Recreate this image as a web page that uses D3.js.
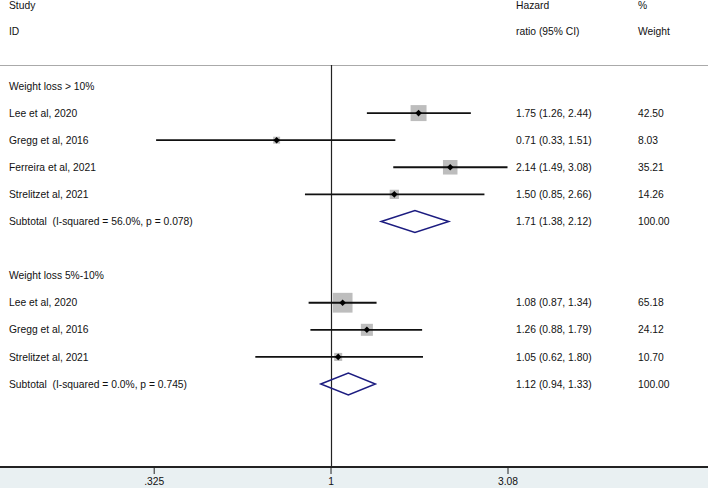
<!DOCTYPE html>
<html>
<head>
<meta charset="utf-8">
<script src="https://cdn.jsdelivr.net/npm/d3@7.9.0/dist/d3.min.js"></script>
<style>
  body { margin: 0; background: #fff; }
  svg { display: block; font-family: "Liberation Sans", Arial, Helvetica, sans-serif; }
  text { white-space: pre; }
</style>
</head>
<body>
<svg width="708" height="488"></svg>
<script>
// rows of the forest plot, top to bottom (kind: head / study / sub / blank)
const rowKinds = ['head', 'study', 'study', 'study', 'study', 'sub', 'blank',
                  'head', 'study', 'study', 'study', 'sub'];
const rowLabels = ['Weight loss > 10%', 'Lee et al, 2020', 'Gregg et al, 2016',
  'Ferreira et al, 2021', 'Strelitzet al, 2021',
  'Subtotal  (I-squared = 56.0%, p = 0.078)', '',
  'Weight loss 5%-10%', 'Lee et al, 2020', 'Gregg et al, 2016',
  'Strelitzet al, 2021', 'Subtotal  (I-squared = 0.0%, p = 0.745)'];
const hazardRatios = [null, 1.75, 0.71, 2.14, 1.50, 1.71, null, null, 1.08, 1.26, 1.05, 1.12];
const ciLower      = [null, 1.26, 0.33, 1.49, 0.85, 1.38, null, null, 0.87, 0.88, 0.62, 0.94];
const ciUpper      = [null, 2.44, 1.51, 3.08, 2.66, 2.12, null, null, 1.34, 1.79, 1.80, 1.33];
const weights      = [null, 42.50, 8.03, 35.21, 14.26, 100.00, null, null, 65.18, 24.12, 10.70, 100.00];
const tickValues = [0.325, 1, 3.08];
const tickLabels = ['.325', '1', '3.08'];

const W = 708, H = 488;
const FS = 10.3;
const svg = d3.select('svg');

const x = d3.scaleLog().domain([0.325, 3.08]).range([153.7, 507.5]);
const y = d3.scaleLinear().domain([0, 11]).range([86, 384]);

const fmt = d3.format('.2f');
const colStudy = 9, colHR = 516, colW = 638;

// bottom axis band
svg.append('rect').attr('x', 0).attr('y', 467).attr('width', W).attr('height', H - 467)
  .attr('fill', '#e9f0f2');

// header
const headY = [y(-3) + 1, y(-2)];
const hdr = [['Study', 'ID'], ['Hazard', 'ratio (95% CI)'], ['%', 'Weight']];
[colStudy, colHR, colW].forEach((cx, i) => {
  hdr[i].forEach((t, j) => {
    svg.append('text').attr('x', cx).attr('y', headY[j]).attr('dy', '0.35em')
      .attr('font-size', FS).attr('fill', '#111').text(t);
  });
});

// top separator
svg.append('line').attr('x1', 0).attr('x2', W).attr('y1', 65.5).attr('y2', 65.5)
  .attr('stroke', '#aaa').attr('stroke-width', 1);

// null line
svg.append('line').attr('x1', Math.round(x(1)) + 0.5).attr('x2', Math.round(x(1)) + 0.5)
  .attr('y1', 65).attr('y2', 467).attr('stroke', '#222').attr('stroke-width', 1.2);

const rows = rowKinds.map((k, i) => ({
  kind: k, label: rowLabels[i], hr: hazardRatios[i], lo: ciLower[i], hi: ciUpper[i], w: weights[i], i
}));

// labels
svg.selectAll('text.lab').data(rows.filter(d => d.label)).join('text')
  .attr('class', 'lab').attr('x', colStudy).attr('y', d => y(d.i)).attr('dy', '0.35em')
  .attr('font-size', FS).attr('fill', '#111').text(d => d.label);

const est = rows.filter(d => d.hr != null);

svg.selectAll('text.hr').data(est).join('text')
  .attr('class', 'hr').attr('x', colHR).attr('y', d => y(d.i)).attr('dy', '0.35em')
  .attr('font-size', FS).attr('fill', '#111')
  .text(d => `${fmt(d.hr)} (${fmt(d.lo)}, ${fmt(d.hi)})`);

svg.selectAll('text.wt').data(est).join('text')
  .attr('class', 'wt').attr('x', colW).attr('y', d => y(d.i)).attr('dy', '0.35em')
  .attr('font-size', FS).attr('fill', '#111').text(d => fmt(d.w));

const studies = rows.filter(d => d.kind === 'study');

// weight boxes
const side = d => 2.45 * Math.sqrt(d.w);
svg.selectAll('rect.box').data(studies).join('rect')
  .attr('class', 'box')
  .attr('x', d => x(d.hr) - side(d) / 2).attr('y', d => y(d.i) - side(d) / 2)
  .attr('width', side).attr('height', side).attr('fill', '#bdbdbd');

// CI lines
svg.selectAll('line.ci').data(studies).join('line')
  .attr('class', 'ci')
  .attr('x1', d => x(d.lo)).attr('x2', d => x(d.hi))
  .attr('y1', d => y(d.i)).attr('y2', d => y(d.i))
  .attr('stroke', '#111').attr('stroke-width', 1.8);

// point estimates
svg.selectAll('path.pt').data(studies).join('path')
  .attr('class', 'pt')
  .attr('d', d => {
    const cx = x(d.hr), cy = y(d.i), r = 3.3;
    return `M${cx},${cy - r}L${cx + r},${cy}L${cx},${cy + r}L${cx - r},${cy}Z`;
  })
  .attr('fill', '#000');

// subtotal diamonds
svg.selectAll('path.dia').data(rows.filter(d => d.kind === 'sub')).join('path')
  .attr('class', 'dia')
  .attr('d', d => {
    const cy = y(d.i), h = 11;
    return `M${x(d.lo)},${cy}L${x(d.hr)},${cy - h}L${x(d.hi)},${cy}L${x(d.hr)},${cy + h}Z`;
  })
  .attr('fill', 'none').attr('stroke', '#1c1c80').attr('stroke-width', 1.5);

// axis
svg.append('line').attr('x1', 0).attr('x2', W).attr('y1', 467).attr('y2', 467)
  .attr('stroke', '#222').attr('stroke-width', 2);

const axis = d3.axisBottom(x).tickValues(tickValues)
  .tickFormat((d, i) => tickLabels[i]).tickSize(7).tickSizeOuter(0);
const gAxis = svg.append('g').attr('transform', 'translate(0,467)').call(axis);
gAxis.select('.domain').remove();
gAxis.selectAll('line').attr('stroke', '#222');
gAxis.selectAll('text').attr('font-size', FS).attr('fill', '#111')
  .attr('font-family', '"Liberation Sans", Arial, sans-serif').attr('dy', '0.75em');
</script>
</body>
</html>
